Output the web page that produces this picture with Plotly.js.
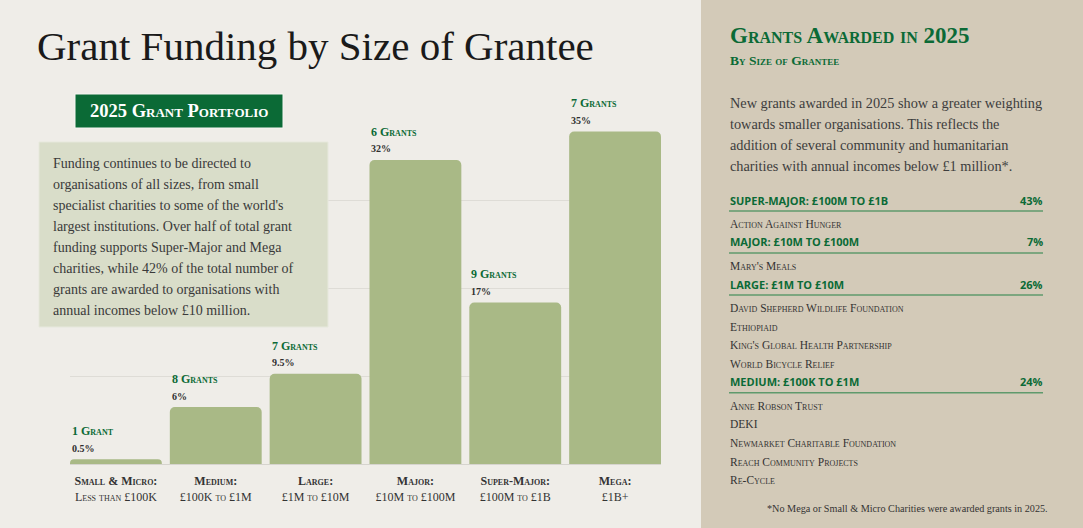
<!DOCTYPE html>
<html>
<head>
<meta charset="utf-8">
<script src="https://cdn.plot.ly/plotly-3.0.1.min.js"></script>
<style>
html,body{margin:0;padding:0;background:#efede8;}
#chart{width:1083px;height:528px;}
</style>
</head>
<body>
<div id="chart"></div>
<script>
// ---- data ----
const categories = ["Small & Micro", "Medium", "Large", "Major", "Super-Major", "Mega"];
const incomeRanges = ["Less than £100K", "£100K to £1M", "£1M to £10M", "£10M to £100M", "£100M to £1B", "£1B+"];
const grantCounts = [1, 8, 7, 6, 9, 7];
const fundingShare = [0.5, 6, 9.5, 32, 17, 35];

const leftText = [
  "Funding continues to be directed to",
  "organisations of all sizes, from small",
  "specialist charities to some of the world's",
  "largest institutions. Over half of total grant",
  "funding supports Super-Major and Mega",
  "charities, while 42% of the total number of",
  "grants are awarded to organisations with",
  "annual incomes below £10 million."
];
const rightText = [
  "New grants awarded in 2025 show a greater weighting",
  "towards smaller organisations. This reflects the",
  "addition of several community and humanitarian",
  "charities with annual incomes below £1 million*."
];
const newBands = ["SUPER-MAJOR: £100M TO £1B", "MAJOR: £10M TO £100M", "LARGE: £1M TO £10M", "MEDIUM: £100K TO £1M"];
const newBandShares = ["43%", "7%", "26%", "24%"];
const newGrantees = [
  ["Action Against Hunger"],
  ["Mary's Meals"],
  ["David Shepherd Wildlife Foundation", "Ethiopiaid", "King's Global Health Partnership", "World Bicycle Relief"],
  ["Anne Robson Trust", "DEKI", "Newmarket Charitable Foundation", "Reach Community Projects", "Re-Cycle"]
];
const footnote = "*No Mega or Small & Micro Charities were awarded grants in 2025.";

// ---- layout helpers (pixel -> paper) ----
const L = 70, R = 661, T = 112, B = 464;
const W = 1083, H = 528;
const px = x => (x - L) / (R - L);
const py = y => (B - y) / (B - T);

const SERIF = "Liberation Serif, Times New Roman, serif";
const SANS = "Open Sans, Liberation Sans, sans-serif";
const GREEN = "#0b6a36";
const DARK = "#2f2f2f";

const xIdx = categories.map((c, i) => i);
const barHalf = 0.46;
const yMax = 37.05;

const trace = {
  type: "bar",
  x: xIdx,
  y: fundingShare,
  width: barHalf * 2,
  marker: {color: "#a9b986", line: {width: 0}},
  hoverinfo: "skip"
};

const annotations = [];
// bar labels
categories.forEach((c, i) => {
  annotations.push({
    xref: "x", yref: "y", x: i - barHalf, y: fundingShare[i],
    xanchor: "left", yanchor: "middle", yshift: 28, showarrow: false,
    text: grantCounts[i] + (grantCounts[i] === 1 ? " Grant" : " Grants"),
    font: {family: SERIF, size: 12, color: GREEN, weight: 700, variant: "small-caps"}
  });
  annotations.push({
    xref: "x", yref: "y", x: i - barHalf, y: fundingShare[i],
    xanchor: "left", yanchor: "middle", yshift: 11, showarrow: false,
    text: fundingShare[i] + "%",
    font: {family: SERIF, size: 10, color: DARK, weight: 700}
  });
});

// title
annotations.push({
  xref: "paper", yref: "paper", x: px(35), y: py(46), xanchor: "left", yanchor: "middle",
  showarrow: false, text: "Grant Funding by Size of Grantee",
  font: {family: SERIF, size: 41, color: "#1a1a1a"}
});
// green box title
annotations.push({
  xref: "paper", yref: "paper", x: px(179), y: py(111), xanchor: "center", yanchor: "middle",
  showarrow: false, text: "2025 Grant Portfolio",
  font: {family: SERIF, size: 18.5, color: "#ffffff", weight: 700, variant: "small-caps"}
});
// left paragraph
leftText.forEach((t, i) => {
  annotations.push({
    xref: "paper", yref: "paper", x: px(51), y: py(163 + i * 21), xanchor: "left", yanchor: "middle",
    showarrow: false, text: t,
    font: {family: SERIF, size: 14, color: "#3a3a3a"}
  });
});

// right panel
annotations.push({
  xref: "paper", yref: "paper", x: px(728), y: py(35), xanchor: "left", yanchor: "middle",
  showarrow: false, text: "Grants Awarded in 2025",
  font: {family: SERIF, size: 23, color: GREEN, weight: 700, variant: "small-caps"}
});
annotations.push({
  xref: "paper", yref: "paper", x: px(728), y: py(60), xanchor: "left", yanchor: "middle",
  showarrow: false, text: "By Size of Grantee",
  font: {family: SERIF, size: 13.5, color: GREEN, weight: 700, variant: "small-caps"}
});
rightText.forEach((t, i) => {
  annotations.push({
    xref: "paper", yref: "paper", x: px(728), y: py(103 + i * 21), xanchor: "left", yanchor: "middle",
    showarrow: false, text: t,
    font: {family: SERIF, size: 14.3, color: "#3d3d3d"}
  });
});

const shapes = [
  {type: "rect", xref: "paper", yref: "paper", x0: px(701), x1: px(W + 2), y0: py(-2), y1: py(H + 2),
   fillcolor: "#d3cab8", line: {width: 0}, layer: "below"},
  {type: "rect", xref: "paper", yref: "paper", x0: px(75), x1: px(283), y0: py(94), y1: py(128),
   fillcolor: GREEN, line: {width: 1, color: "#f7f6f2"}, layer: "above"},
  {type: "rect", xref: "paper", yref: "paper", x0: px(39), x1: px(328), y0: py(142), y1: py(327),
   fillcolor: "#d9ddc9", line: {width: 1, color: "#e6e8dc"}, layer: "above"}
];

// band sections
let yCur = 200;
newBands.forEach((band, b) => {
  annotations.push({
    xref: "paper", yref: "paper", x: px(728), y: py(yCur), xanchor: "left", yanchor: "middle",
    showarrow: false, text: band,
    font: {family: SANS, size: 11, color: GREEN, weight: 700}
  });
  annotations.push({
    xref: "paper", yref: "paper", x: px(1045), y: py(yCur), xanchor: "right", yanchor: "middle",
    showarrow: false, text: newBandShares[b],
    font: {family: SANS, size: 11, color: GREEN, weight: 700}
  });
  shapes.push({type: "line", xref: "paper", yref: "paper", x0: px(729), x1: px(1043),
    y0: py(yCur + 11), y1: py(yCur + 11), line: {color: "#5f9a6c", width: 1.5}, layer: "above"});
  let yy = yCur + 24;
  newGrantees[b].forEach(name => {
    annotations.push({
      xref: "paper", yref: "paper", x: px(728), y: py(yy), xanchor: "left", yanchor: "middle",
      showarrow: false, text: name,
      font: {family: SERIF, size: 11.5, color: "#333333", variant: "small-caps"}
    });
    yy += 18.6;
  });
  yCur = yy - 0.6;
});

annotations.push({
  xref: "paper", yref: "paper", x: px(1050), y: py(508), xanchor: "right", yanchor: "middle",
  showarrow: false, text: footnote,
  font: {family: SERIF, size: 10.2, color: "#333333"}
});

const layout = {
  width: W, height: H,
  margin: {l: L, r: W - R, t: T, b: H - B, pad: 0},
  paper_bgcolor: "#efede8",
  plot_bgcolor: "rgba(0,0,0,0)",
  showlegend: false,
  barcornerradius: 5,
  xaxis: {
    type: "linear",
    range: [-barHalf, categories.length - 1 + barHalf],
    tickmode: "array",
    tickvals: xIdx,
    ticktext: categories.map((c, i) => "<b>" + c + ":</b><br>" + incomeRanges[i]),
    tickfont: {family: SERIF, size: 12, color: "#333333", variant: "small-caps"},
    ticklabelstandoff: 8,
    showgrid: false, zeroline: false, showline: false, ticks: "",
    fixedrange: true
  },
  yaxis: {
    range: [0, yMax],
    tick0: 0, dtick: yMax / 4,
    showticklabels: false,
    showgrid: true, gridcolor: "#dedcd6", gridwidth: 1,
    zeroline: true, zerolinecolor: "#d6d4ce", zerolinewidth: 1,
    fixedrange: true
  },
  shapes: shapes,
  annotations: annotations
};

Plotly.newPlot("chart", [trace], layout, {staticPlot: true, displayModeBar: false});
</script>
</body>
</html>
